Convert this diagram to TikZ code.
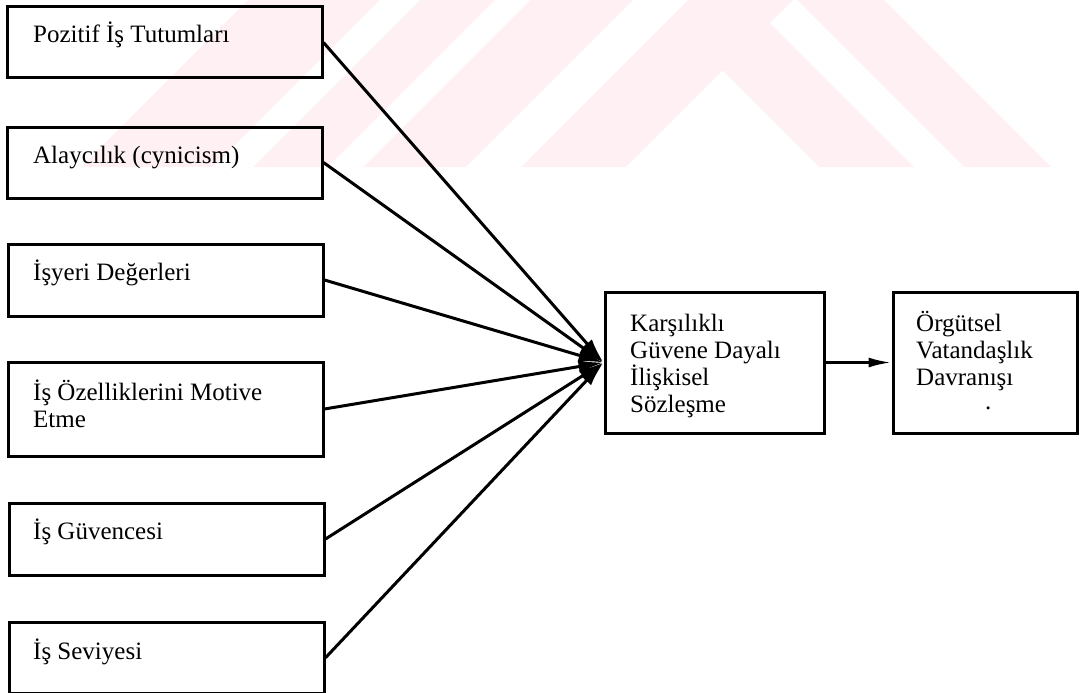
\documentclass[tikz,border=0pt]{standalone}
\usepackage{fontspec}
\setmainfont{Liberation Serif}
\usetikzlibrary{arrows.meta}
\definecolor{wmark}{RGB}{254,240,243}
\begin{document}
\begin{tikzpicture}[x=1pt,y=-1pt,
  box/.style={draw, line width=3pt, inner sep=0pt},
  lbl/.style={anchor=base west, inner sep=0pt, font=\fontsize{25pt}{27pt}\selectfont},
  link/.style={line width=3pt, -{Latex[length=25pt,width=13pt]}},
  lead/.style={line width=2.8pt, -{Latex[length=23pt,width=10pt]}},
]
\useasboundingbox (0,0) rectangle (1080,693);

% faint striped emblem in the background
\fill[wmark] (248,0) -- (884,0) -- (1051,167) -- (81,167) -- cycle;
\fill[white] (380,0) -- (420,0) -- (253,167) -- (213,167) -- cycle;
\fill[white] (495,0) -- (530,0) -- (363,167) -- (328,167) -- cycle;
\fill[white] (633,0) -- (688,0) -- (521,167) -- (466,167) -- cycle;
\fill[white] (722.5,70.5) -- (819,167) -- (626,167) -- cycle;
\fill[white] (770,23) -- (793,0) -- (797,0) -- (964,167) -- (914,167) -- cycle;

% antecedent boxes
\node[box, minimum width=315pt, minimum height=71pt] (b1) at (164.5,42.5) {};
\node[box, minimum width=315pt, minimum height=71pt] (b2) at (164.5,162.5) {};
\node[box, minimum width=315pt, minimum height=72pt] (b3) at (165.5,280) {};
\node[box, minimum width=315pt, minimum height=94pt] (b4) at (165.5,409) {};
\node[box, minimum width=315pt, minimum height=72pt] (b5) at (166.5,539) {};
\node[box, minimum width=315pt, minimum height=71.5pt] (b6) at (166.5,657.75) {};

\node[lbl] (t1) at (33,43) {Pozitif İş Tutumları};
\node[lbl] (t2) at (33,163) {Alaycılık (cynicism)};
\node[lbl] (t3) at (33,280) {İşyeri Değerleri};
\node[lbl] (t4a) at (33,400) {İş Özelliklerini Motive};
\node[lbl] (t4b) at (33,427) {Etme};
\node[lbl] (t5) at (33,539) {İş Güvencesi};
\node[lbl] (t6) at (33,659) {İş Seviyesi};

% mediator and outcome
\node[box, minimum width=219pt, minimum height=141pt] (m) at (714.5,362.5) {};
\node[box, minimum width=184pt, minimum height=141pt] (r) at (985,362.5) {};

\node[lbl] (m1) at (630,331) {Karşılıklı};
\node[lbl] (m2) at (630,358) {Güvene Dayalı};
\node[lbl] (m3) at (630,385) {İlişkisel};
\node[lbl] (m4) at (630,412) {Sözleşme};

\node[lbl] (r1) at (916,331) {Örgütsel};
\node[lbl] (r2) at (916,358) {Vatandaşlık};
\node[lbl] (r3) at (916,385) {Davranışı};
\node[lbl] (r4) at (985,409) {.};

% connectors
\foreach \b in {b1,b2,b3,b4,b5,b6}
  \draw[link] (\b.east) -- (m.west);
\draw[lead] (m.east) -- (r.west);
\end{tikzpicture}
\end{document}
